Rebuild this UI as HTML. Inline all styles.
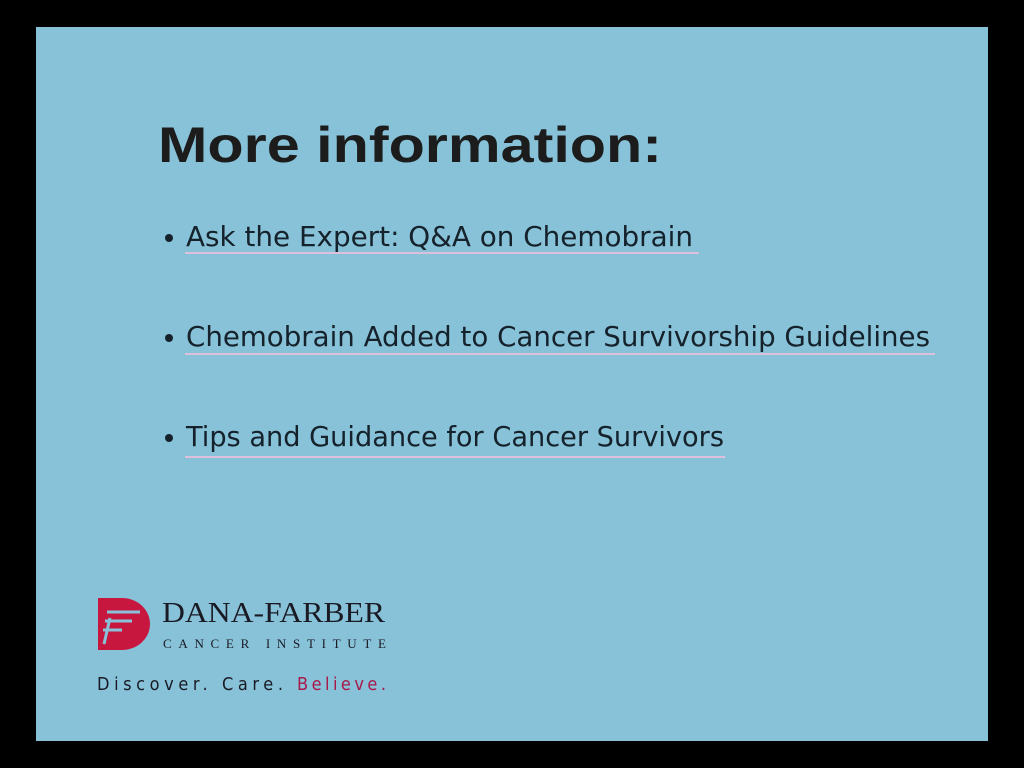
<!DOCTYPE html>
<html><head><meta charset="utf-8"><style>
html,body{margin:0;padding:0;background:#000;width:1024px;height:768px;overflow:hidden}
svg{display:block}
</style></head><body>
<svg width="1024" height="768" viewBox="0 0 1024 768">
<rect x="0" y="0" width="1024" height="768" fill="#000"/>
<rect x="36" y="27" width="952" height="714" fill="#87c2d8"/>
<text x="158" y="162" font-family="Liberation Sans, sans-serif" font-weight="bold" font-size="50" fill="#1c1c1c" textLength="504" lengthAdjust="spacingAndGlyphs">More information:</text>
<g font-family="DejaVu Sans, sans-serif" font-size="28" fill="#15222b">
<circle cx="169" cy="238" r="4" fill="#15222b"/>
<text x="186" y="246" textLength="507" lengthAdjust="spacingAndGlyphs">Ask the Expert: Q&amp;A on Chemobrain</text>
<rect x="185" y="252" width="514" height="2" fill="#dcc0dc"/>
<circle cx="169" cy="338" r="4" fill="#15222b"/>
<text x="186" y="346" textLength="744" lengthAdjust="spacingAndGlyphs">Chemobrain Added to Cancer Survivorship Guidelines</text>
<rect x="185" y="353" width="750" height="2" fill="#dcc0dc"/>
<circle cx="169" cy="438" r="4" fill="#15222b"/>
<text x="186" y="446" textLength="538" lengthAdjust="spacingAndGlyphs">Tips and Guidance for Cancer Survivors</text>
<rect x="185" y="456" width="540" height="2" fill="#dcc0dc"/>
</g>
<g>
<path d="M98 598 H122 A28 26 0 0 1 122 650 H98 Z" fill="#c8173f"/>
<path d="M107 612 H140 M105 621 H132 M103 630 H122 M110 618 L104 644" stroke="#87c2d8" stroke-width="3" fill="none"/>
<text x="162" y="622" font-family="Liberation Serif, serif" font-size="28" fill="#1a1a24" textLength="223" lengthAdjust="spacingAndGlyphs">DANA-FARBER</text>
<text x="163" y="648" font-family="Liberation Serif, serif" font-size="13" fill="#1a1a24" textLength="223" lengthAdjust="spacing">CANCER INSTITUTE</text>
<text x="97" y="690" font-family="DejaVu Sans Condensed, Liberation Sans Narrow, sans-serif" font-size="18" fill="#1a1a24" textLength="186" lengthAdjust="spacing">Discover. Care.</text>
<text x="297" y="690" font-family="DejaVu Sans Condensed, Liberation Sans Narrow, sans-serif" font-size="18" fill="#a8194a" textLength="89" lengthAdjust="spacing">Believe.</text>
</g>
</svg>
</body></html>
